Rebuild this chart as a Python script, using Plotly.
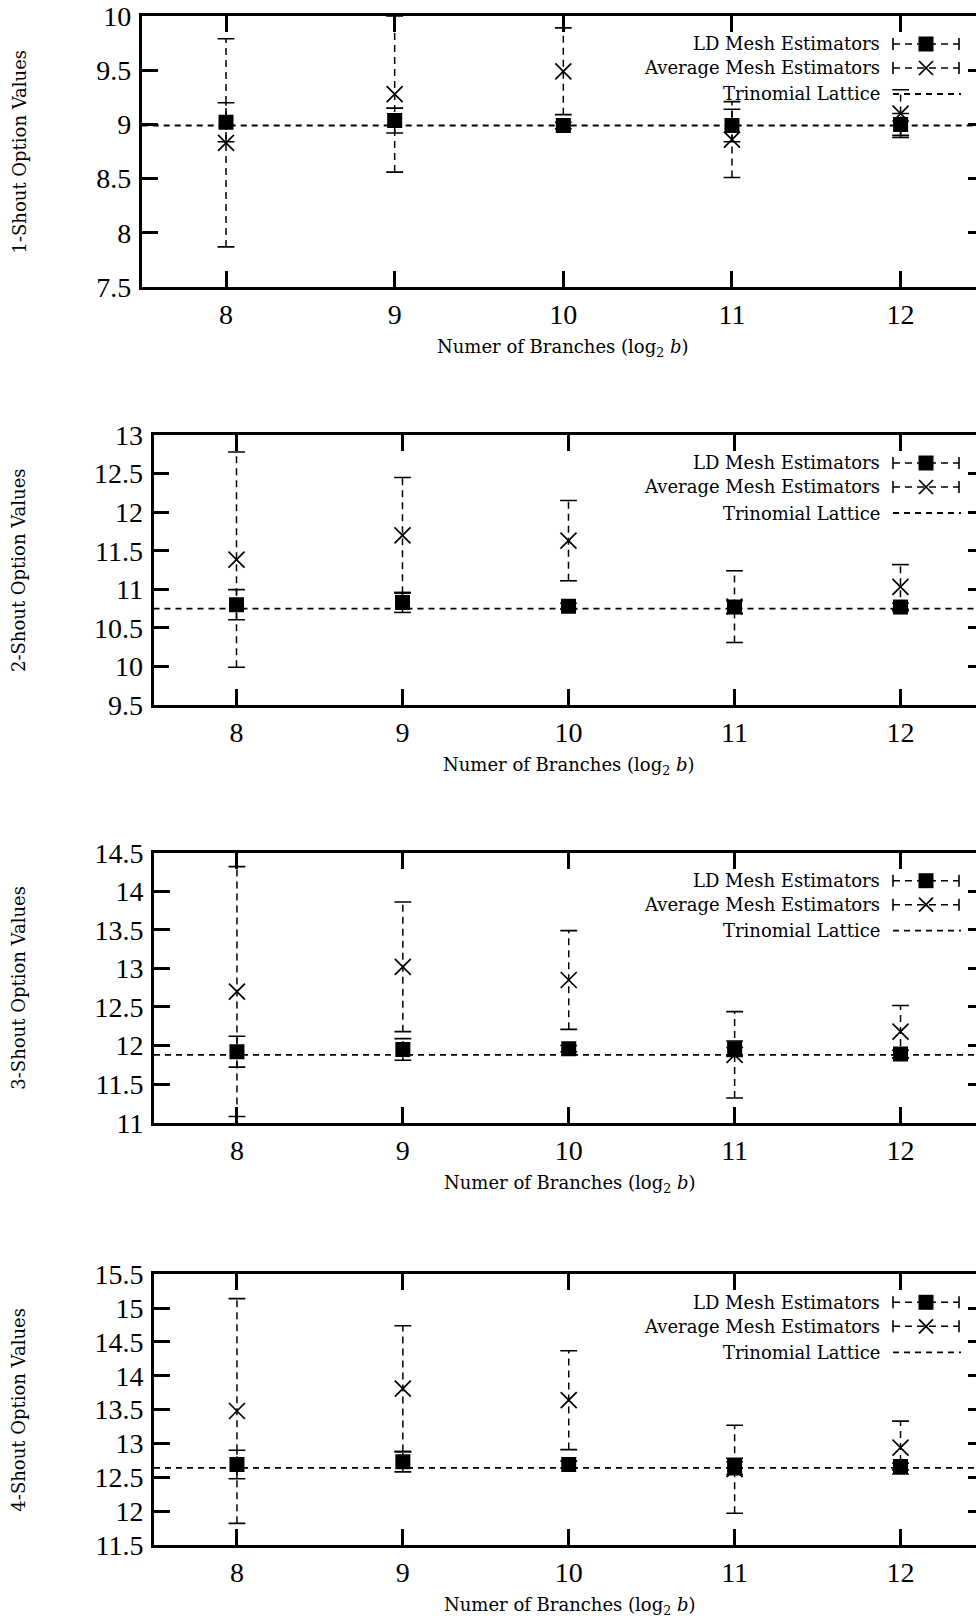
import plotly.graph_objects as go

# ---------------- data ----------------
X_VALUES = [8, 9, 10, 11, 12]

PANEL_LABELS = ["1-Shout Option Values", "2-Shout Option Values",
                "3-Shout Option Values", "4-Shout Option Values"]
X_TITLE = "Numer of Branches (log<sub>2</sub> <i>b</i>)"

LD_1 = [9.02, 9.035, 8.99, 8.99, 9.00]
LD_ERR_1 = [0.18, 0.115, 0.03, 0.15, 0.10]
AVG_1 = [8.83, 9.28, 9.49, 8.86, 9.10]
AVG_ERR_1 = [0.96, 0.72, 0.40, 0.35, 0.22]

LD_2 = [10.80, 10.83, 10.78, 10.77, 10.77]
LD_ERR_2 = [0.195, 0.13, 0.04, 0.08, 0.05]
AVG_2 = [11.385, 11.70, 11.63, 10.775, 11.03]
AVG_ERR_2 = [1.395, 0.75, 0.52, 0.465, 0.29]

LD_3 = [11.92, 11.95, 11.96, 11.96, 11.89]
LD_ERR_3 = [0.20, 0.14, 0.04, 0.10, 0.05]
AVG_3 = [12.70, 13.02, 12.85, 11.88, 12.18]
AVG_ERR_3 = [1.62, 0.84, 0.64, 0.56, 0.34]

LD_4 = [12.69, 12.73, 12.69, 12.66, 12.66]
LD_ERR_4 = [0.21, 0.15, 0.05, 0.12, 0.05]
AVG_4 = [13.48, 13.81, 13.64, 12.62, 12.94]
AVG_ERR_4 = [1.66, 0.93, 0.73, 0.65, 0.39]

TRINOMIAL = [8.99, 10.75, 11.88, 12.64]
Y_RANGES = [[7.5, 10], [9.5, 13], [11, 14.5], [11.5, 15.5]]
Y_STEP = 0.5

LEGEND_NAMES = ["LD Mesh Estimators", "Average Mesh Estimators", "Trinomial Lattice"]

LD = [LD_1, LD_2, LD_3, LD_4]
LD_ERR = [LD_ERR_1, LD_ERR_2, LD_ERR_3, LD_ERR_4]
AVG = [AVG_1, AVG_2, AVG_3, AVG_4]
AVG_ERR = [AVG_ERR_1, AVG_ERR_2, AVG_ERR_3, AVG_ERR_4]

# ---------------- layout geometry (page pixels) ----------------
W, H = 976, 1619
PANELS = [
    dict(left=141.7, top=16.0, bottom=287.0, xend=12.447),
    dict(left=153.5, top=435.0, bottom=705.0, xend=12.455),
    dict(left=154.0, top=852.7, bottom=1122.7, xend=12.455),
    dict(left=154.0, top=1274.3, bottom=1545.0, xend=12.455),
]
X_START = 7.5

SERIF = '"Liberation Serif", "Times New Roman", serif'
TEXT_FONT = '"DejaVu Serif", serif'
BLACK = "black"


def py(px):
    return 1 - px / H


def px_x(px):
    return px / W


fig = go.Figure()
layout = dict(
    template="none",
    width=W, height=H,
    margin=dict(l=0, r=0, t=0, b=0, pad=0, autoexpand=False),
    paper_bgcolor="white", plot_bgcolor="white",
    showlegend=False,
    annotations=[], shapes=[],
)


def bar_path(xs, centers, errs):
    bx, by = [], []
    for x, c, e in zip(xs, centers, errs):
        bx += [x, x, None]
        by += [c - e, c + e, None]
    return bx, by


def cap_points(xs, centers, errs):
    cx, cy = [], []
    for x, c, e in zip(xs, centers, errs):
        cx += [x, x]
        cy += [c - e, c + e]
    return cx, cy


for i, p in enumerate(PANELS):
    n = i + 1
    xa = "x" if n == 1 else f"x{n}"
    ya = "y" if n == 1 else f"y{n}"
    yo = f"y{n + 4}"
    lo, hi = Y_RANGES[i]

    layout[f"xaxis{'' if n == 1 else n}"] = dict(
        domain=[px_x(p["left"]), 1], range=[X_START, p["xend"]], anchor=ya,
        automargin=False, ticklabeloverflow="allow",
        showline=True, linewidth=2.7, linecolor=BLACK, mirror="ticks",
        ticks="inside", ticklen=16, tickwidth=3, tickcolor=BLACK,
        tickvals=X_VALUES, ticklabelstandoff=1,
        tickfont=dict(family=SERIF, size=28, color=BLACK),
        showgrid=False, zeroline=False,
    )
    layout[f"yaxis{'' if n == 1 else n}"] = dict(
        domain=[py(p["bottom"]), py(p["top"])], range=[lo, hi], anchor=xa,
        automargin=False, ticklabeloverflow="allow",
        showline=True, linewidth=2.7, linecolor=BLACK,
        ticks="inside", ticklen=16, tickwidth=3, tickcolor=BLACK,
        tick0=lo, dtick=Y_STEP, ticklabelstandoff=2,
        tickfont=dict(family=SERIF, size=28, color=BLACK),
        showgrid=False, zeroline=False,
    )
    layout[f"yaxis{n + 4}"] = dict(
        overlaying=ya, side="right", anchor=xa, range=[lo, hi],
        automargin=False,
        showline=False, ticks="inside", ticklen=8, tickwidth=3, tickcolor=BLACK,
        tick0=lo, dtick=Y_STEP, showticklabels=False,
        showgrid=False, zeroline=False,
    )
    # keep overlay axis alive
    fig.add_trace(go.Scatter(x=[None], y=[None], xaxis=xa, yaxis=yo,
                             hoverinfo="skip", showlegend=False))

    # trinomial lattice reference line
    layout["shapes"].append(dict(
        type="line", xref=f"{xa} domain", yref=ya, x0=0, x1=1,
        y0=TRINOMIAL[i], y1=TRINOMIAL[i], layer="below",
        line=dict(color=BLACK, width=1.8, dash="6px,5px"),
    ))

    # error bars (dashed vertical lines with caps)
    for centers, errs in ((AVG[i], AVG_ERR[i]), (LD[i], LD_ERR[i])):
        bx, by = bar_path(X_VALUES, centers, errs)
        fig.add_trace(go.Scatter(x=bx, y=by, mode="lines", xaxis=xa, yaxis=ya,
                                 line=dict(color=BLACK, width=1.5, dash="7px,5px"),
                                 hoverinfo="skip", showlegend=False))
        cx, cy = cap_points(X_VALUES, centers, errs)
        fig.add_trace(go.Scatter(x=cx, y=cy, mode="markers", xaxis=xa, yaxis=ya,
                                 marker=dict(symbol="line-ew-open", size=12, color=BLACK,
                                             line=dict(color=BLACK, width=1.6)),
                                 hoverinfo="skip", showlegend=False))

    # Average mesh estimators
    fig.add_trace(go.Scatter(x=X_VALUES, y=AVG[i], mode="markers", xaxis=xa, yaxis=ya,
                             name=LEGEND_NAMES[1],
                             marker=dict(symbol="x-thin-open", size=16, color=BLACK,
                                         line=dict(color=BLACK, width=1.7))))
    # LD mesh estimators
    fig.add_trace(go.Scatter(x=X_VALUES, y=LD[i], mode="markers", xaxis=xa, yaxis=ya,
                             name=LEGEND_NAMES[0],
                             marker=dict(symbol="square", size=15, color=BLACK,
                                         line=dict(width=0))))

    # axis titles
    layout["annotations"].append(dict(
        text=PANEL_LABELS[i], xref="paper", yref="paper",
        x=px_x(19), y=py((p["top"] + p["bottom"]) / 2),
        textangle=-90, showarrow=False, xanchor="center", yanchor="middle",
        font=dict(family=TEXT_FONT, size=18, color=BLACK),
    ))
    layout["annotations"].append(dict(
        text=X_TITLE, xref="paper", yref="paper",
        x=px_x((p["left"] + 985) / 2), y=py(p["bottom"] + 61),
        showarrow=False, xanchor="center", yanchor="middle",
        font=dict(family=TEXT_FONT, size=18, color=BLACK),
    ))

    # custom legend (text left of sample, as in reference)
    rows = [p["top"] + 28, p["top"] + 52, p["top"] + 78]
    for name, ry in zip(LEGEND_NAMES, rows):
        layout["annotations"].append(dict(
            text=name, xref="paper", yref="paper", x=px_x(882), y=py(ry),
            showarrow=False, xanchor="right", yanchor="middle",
            font=dict(family=TEXT_FONT, size=18, color=BLACK),
        ))
    sx0, sx1, smid = 893, 959, 926
    for k in range(2):
        ry = rows[k]
        layout["shapes"].append(dict(type="line", xref="paper", yref="paper",
                                     x0=px_x(sx0), x1=px_x(sx1), y0=py(ry), y1=py(ry),
                                     line=dict(color=BLACK, width=1.5, dash="7px,5px")))
        for cxp in (sx0, sx1):
            layout["shapes"].append(dict(type="line", xref="paper", yref="paper",
                                         x0=px_x(cxp), x1=px_x(cxp), y0=py(ry - 6), y1=py(ry + 6),
                                         line=dict(color=BLACK, width=1.6)))
    # LD sample square
    layout["shapes"].append(dict(type="rect", xref="paper", yref="paper",
                                 x0=px_x(smid - 7.5), x1=px_x(smid + 7.5),
                                 y0=py(rows[0] - 7.5), y1=py(rows[0] + 7.5),
                                 fillcolor=BLACK, line=dict(width=0)))
    # Average sample cross
    for dx in (-1, 1):
        layout["shapes"].append(dict(type="line", xref="paper", yref="paper",
                                     x0=px_x(smid - 7 * dx), x1=px_x(smid + 7 * dx),
                                     y0=py(rows[1] - 7), y1=py(rows[1] + 7),
                                     line=dict(color=BLACK, width=1.7)))
    # Trinomial sample
    layout["shapes"].append(dict(type="line", xref="paper", yref="paper",
                                 x0=px_x(sx0), x1=px_x(sx1 + 2), y0=py(rows[2]), y1=py(rows[2]),
                                 line=dict(color=BLACK, width=1.8, dash="6px,5px")))

fig.update_layout(**layout)
fig.write_html("out.html",
               config={"displayModeBar": False},
               post_script="document.body.style.margin='0';document.body.style.overflow='hidden';")
